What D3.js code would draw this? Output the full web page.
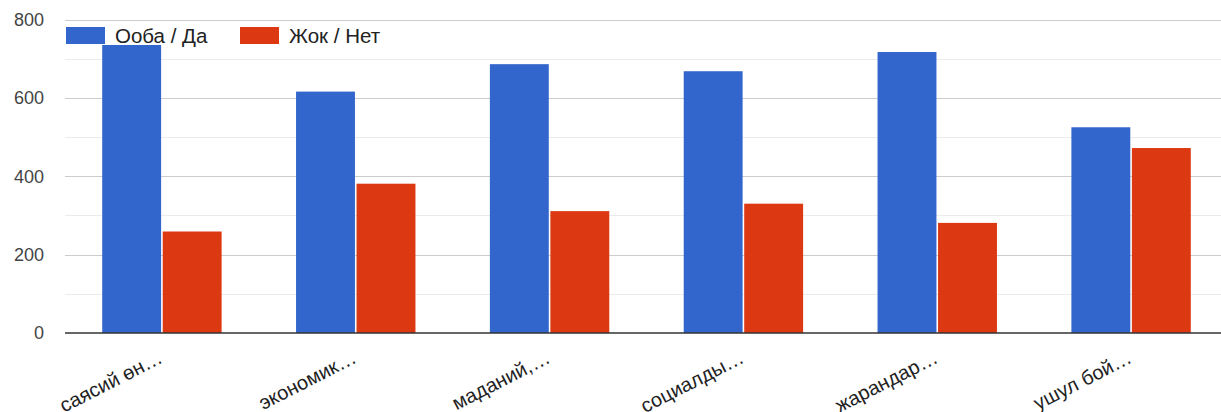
<!DOCTYPE html>
<html>
<head>
<meta charset="utf-8">
<script src="https://cdn.jsdelivr.net/npm/d3@7"></script>
<style>
  body { margin: 0; background: #fff; }
  svg { display: block; font-family: "Liberation Sans", Arial, sans-serif; }
</style>
</head>
<body>
<div id="chart"></div>
<script>
const categories = ['саясий өн…', 'экономик…', 'маданий,…', 'социалды…', 'жарандар…', 'ушул бой…'];
const seriesNames = ['Ооба / Да', 'Жок / Нет'];
const yesValues = [735, 616, 686, 668, 717, 525];
const noValues = [259, 381, 311, 330, 281, 472];
const majorTicks = [0, 200, 400, 600, 800];
const minorTicks = [100, 300, 500, 700];
const colors = ['#3366cc', '#dc3912'];

// dimensions
const W = 1221, H = 412;
const margin = {top: 19.5, left: 65, bottom: 79};
const plotRight = 1228;

const svg = d3.select('#chart')
  .append('svg')
  .attr('width', W)
  .attr('height', H);

const x = d3.scaleBand()
  .domain(categories)
  .range([margin.left, plotRight])
  .paddingInner(0.384)
  .paddingOuter(0.192);

const sub = d3.scaleBand()
  .domain(seriesNames)
  .range([0, x.bandwidth()]);

const y = d3.scaleLinear()
  .domain([0, 800])
  .range([H - margin.bottom, margin.top]);

// gridlines
svg.append('g')
  .selectAll('line')
  .data(minorTicks)
  .join('line')
  .attr('x1', margin.left).attr('x2', W)
  .attr('y1', d => Math.round(y(d)) + 0.5).attr('y2', d => Math.round(y(d)) + 0.5)
  .attr('stroke', '#ebebeb');

svg.append('g')
  .selectAll('line')
  .data(majorTicks.filter(d => d > 0))
  .join('line')
  .attr('x1', margin.left).attr('x2', W)
  .attr('y1', d => Math.round(y(d)) + 0.5).attr('y2', d => Math.round(y(d)) + 0.5)
  .attr('stroke', '#cccccc');

// y axis labels
const yAxis = svg.append('g')
  .attr('transform', `translate(${margin.left},0)`)
  .call(d3.axisLeft(y).tickValues(majorTicks).tickSize(0).tickPadding(21));
yAxis.select('.domain').remove();
yAxis.selectAll('text')
  .attr('font-family', '"Liberation Sans", Arial, sans-serif')
  .attr('font-size', 18)
  .attr('fill', '#444');

// bars
const rows = categories.map((c, i) => ({cat: c, vals: [yesValues[i], noValues[i]]}));

svg.append('g')
  .selectAll('g')
  .data(rows)
  .join('g')
  .attr('transform', d => `translate(${x(d.cat)},0)`)
  .selectAll('rect')
  .data(d => d.vals.map((v, j) => ({key: seriesNames[j], value: v, j})))
  .join('rect')
  .attr('x', d => sub(d.key) + (d.j ? 0.8 : 0))
  .attr('width', sub.bandwidth() - 0.8)
  .attr('y', d => y(d.value))
  .attr('height', d => y(0) - y(d.value))
  .attr('fill', d => colors[d.j]);

// baseline
svg.append('line')
  .attr('x1', margin.left).attr('x2', W)
  .attr('y1', y(0)).attr('y2', y(0))
  .attr('stroke', '#333')
  .attr('stroke-width', 1.5);

// x axis labels (slanted, cut by the bottom edge like the original)
const xAxis = svg.append('g')
  .attr('transform', `translate(0,${y(0)})`)
  .call(d3.axisBottom(x).tickSize(0).tickPadding(0));
xAxis.select('.domain').remove();
xAxis.selectAll('text')
  .attr('font-family', '"Liberation Sans", Arial, sans-serif')
  .attr('font-size', 20)
  .attr('fill', '#222')
  .attr('text-anchor', 'end')
  .attr('dy', 0)
  .attr('y', 0)
  .attr('transform', 'translate(2,29) rotate(-27)');

// legend
const legend = svg.append('g')
  .attr('transform', 'translate(66,27)');
const legendX = [0, 174];
const items = legend.selectAll('g')
  .data(seriesNames)
  .join('g')
  .attr('transform', (d, i) => `translate(${legendX[i]},0)`);
items.append('rect')
  .attr('width', 39).attr('height', 17)
  .attr('fill', (d, i) => colors[i]);
items.append('text')
  .attr('x', 49).attr('y', 16)
  .attr('font-size', 20.5)
  .attr('fill', '#222')
  .attr('stroke', '#fff')
  .attr('stroke-width', 3)
  .attr('paint-order', 'stroke')
  .text(d => d);
</script>
</body>
</html>
